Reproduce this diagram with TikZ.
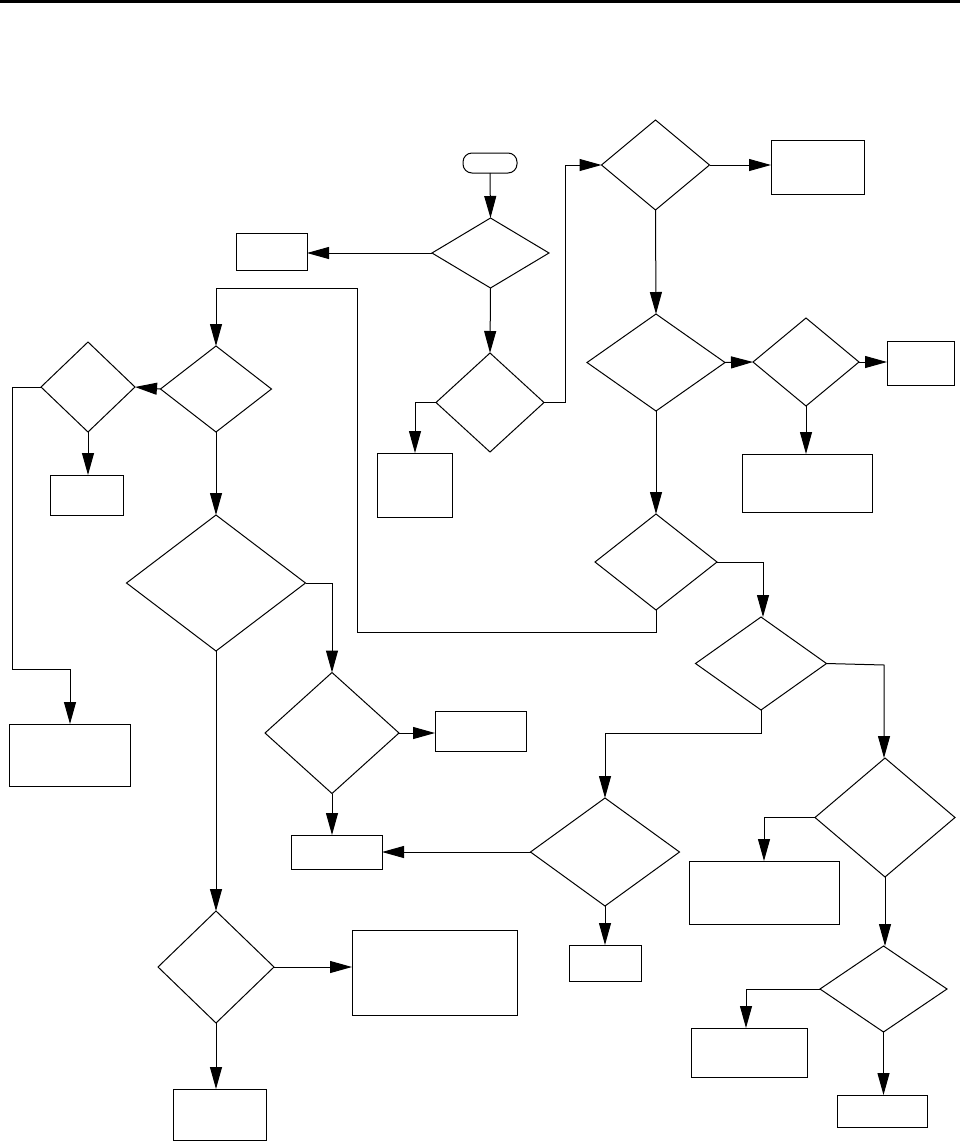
\documentclass[tikz,border=0pt]{standalone}
\usetikzlibrary{shapes.geometric,arrows.meta}
\begin{document}
\begin{tikzpicture}[x=1pt,y=-1pt,
  dia/.style={draw,shape=diamond,inner sep=0pt,outer sep=0pt,line width=1pt},
  flbox/.style={draw,rectangle,inner sep=0pt,outer sep=0pt,line width=1pt},
  term/.style={draw,rectangle,rounded corners=9pt,inner sep=0pt,outer sep=0pt,line width=1pt,minimum width=54pt,minimum height=20pt},
  conn/.style={line width=1pt,-{Triangle[length=22pt,width=12pt]}},
  plain/.style={line width=1pt}]
\useasboundingbox (0,0) rectangle (964,1141);
\draw[line width=3pt] (0,1.5) -- (960,1.5);
% terminal
\node[term] (t) at (490,163) {};
% diamonds
\node[dia,minimum width=117pt,minimum height=70pt] (d1) at (490.5,253) {};
\node[dia,minimum width=108pt,minimum height=90pt] (d2) at (655.5,165) {};
\node[dia,minimum width=108pt,minimum height=99pt] (d3) at (490,402.5) {};
\node[dia,minimum width=138pt,minimum height=97pt] (d4) at (656,362.5) {};
\node[dia,minimum width=106pt,minimum height=88pt] (d5) at (806,362) {};
\node[dia,minimum width=122pt,minimum height=96pt] (d6) at (656,562) {};
\node[dia,minimum width=111pt,minimum height=86pt] (dl2) at (216,389) {};
\node[dia,minimum width=94pt,minimum height=90pt] (dl1) at (88,387) {};
\node[dia,minimum width=179pt,minimum height=136pt] (db) at (216,583) {};
\node[dia,minimum width=134pt,minimum height=121pt] (d7) at (332,733) {};
\node[dia,minimum width=116pt,minimum height=112pt] (d8) at (216,967) {};
\node[dia,minimum width=131pt,minimum height=93pt] (dr1) at (761,663.5) {};
\node[dia,minimum width=149pt,minimum height=108pt] (d9) at (605,852) {};
\node[dia,minimum width=140pt,minimum height=119pt] (d10) at (885,817.5) {};
\node[dia,minimum width=127pt,minimum height=86pt] (d11) at (883.5,989) {};
% boxes
\node[flbox,minimum width=71pt,minimum height=37pt] (b1) at (271.5,251.5) {};
\node[flbox,minimum width=93pt,minimum height=54pt] (b2) at (817.5,167) {};
\node[flbox,minimum width=73pt,minimum height=40pt] (b3) at (86.5,495) {};
\node[flbox,minimum width=75pt,minimum height=64pt] (b4) at (414.5,485) {};
\node[flbox,minimum width=67pt,minimum height=44pt] (b5) at (920.5,363) {};
\node[flbox,minimum width=130pt,minimum height=58pt] (b6) at (807,483) {};
\node[flbox,minimum width=121pt,minimum height=62pt] (b7) at (69.5,755) {};
\node[flbox,minimum width=91pt,minimum height=40pt] (b8) at (480.5,731) {};
\node[flbox,minimum width=91pt,minimum height=34pt] (b9) at (336.5,852) {};
\node[flbox,minimum width=150pt,minimum height=63pt] (b10) at (764,892.5) {};
\node[flbox,minimum width=72pt,minimum height=36pt] (b11) at (605,963) {};
\node[flbox,minimum width=165pt,minimum height=85pt] (b12) at (434.5,972.5) {};
\node[flbox,minimum width=116pt,minimum height=49pt] (b13) at (749,1052.5) {};
\node[flbox,minimum width=93pt,minimum height=51pt] (b14) at (219.5,1114.5) {};
\node[flbox,minimum width=90pt,minimum height=32pt] (b15) at (882,1111) {};
% bend points
\coordinate (c3w) at (415,402.5);
\coordinate (c3e) at (565,402.5);
\coordinate (c6e) at (763,562);
\coordinate (c6s) at (656,632);
\coordinate (c6l) at (357,632);
\coordinate (c6u) at (357,288);
\coordinate (cl1) at (12,387);
\coordinate (cl1d) at (12,669);
\coordinate (cl1r) at (70,669);
\coordinate (cbe) at (332,583);
\coordinate (cr1e) at (884,665);
\coordinate (cr1s) at (761,733);
\coordinate (cr1l) at (605,733);
\coordinate (c10w) at (764,817.5);
\coordinate (c11w) at (746,989);
% connectors
\draw[conn] (t.south) -- (d1.north);
\draw[conn] (d1.west) -- (d1.west -| b1.east);
\draw[conn] (d1.south) -- (d3.north);
\draw[conn] (d3.west) -- (c3w) -- (c3w |- b4.north);
\draw[conn] (d3.east) -- (c3e) -- (c3e |- d2.west) -- (d2.west);
\draw[conn] (d2.east) -- (d2.east -| b2.west);
\draw[conn] (d2.south) -- (d4.north);
\draw[conn] (d4.east) -- (d5.west);
\draw[conn] (d5.east) -- (d5.east -| b5.west);
\draw[conn] (d5.south) -- (d5.south |- b6.north);
\draw[conn] (d4.south) -- (d6.north);
\draw[conn] (d6.east) -- (c6e) -- (c6e |- dr1.north);
\draw[conn] (d6.south) -- (c6s) -- (c6l) -- (c6u) -- (c6u -| dl2.north) -- (dl2.north);
\draw[conn] (dl2.west) -- (dl1.east);
\draw[conn] (dl1.south) -- (dl1.south |- b3.north);
\draw[conn] (dl1.west) -- (cl1) -- (cl1d) -- (cl1r) -- (cl1r |- b7.north);
\draw[conn] (dl2.south) -- (db.north);
\draw[conn] (db.east) -- (cbe) -- (d7.north);
\draw[conn] (db.south) -- (d8.north);
\draw[conn] (d7.east) -- (d7.east -| b8.west);
\draw[conn] (d7.south) -- (d7.south |- b9.north);
\draw[conn] (d8.east) -- (d8.east -| b12.west);
\draw[conn] (d8.south) -- (d8.south |- b14.north);
\draw[conn] (dr1.east) -- (cr1e) -- (cr1e |- d10.north);
\draw[conn] (dr1.south) -- (cr1s) -- (cr1l) -- (d9.north);
\draw[conn] (d9.west) -- (d9.west -| b9.east);
\draw[conn] (d9.south) -- (d9.south |- b11.north);
\draw[conn] (d10.west) -- (c10w) -- (c10w |- b10.north);
\draw[conn] (d10.south) -- (d10.south |- d11.north);
\draw[conn] (d11.west) -- (c11w) -- (c11w |- b13.north);
\draw[conn] (d11.south) -- (d11.south |- b15.north);
\end{tikzpicture}
\end{document}
